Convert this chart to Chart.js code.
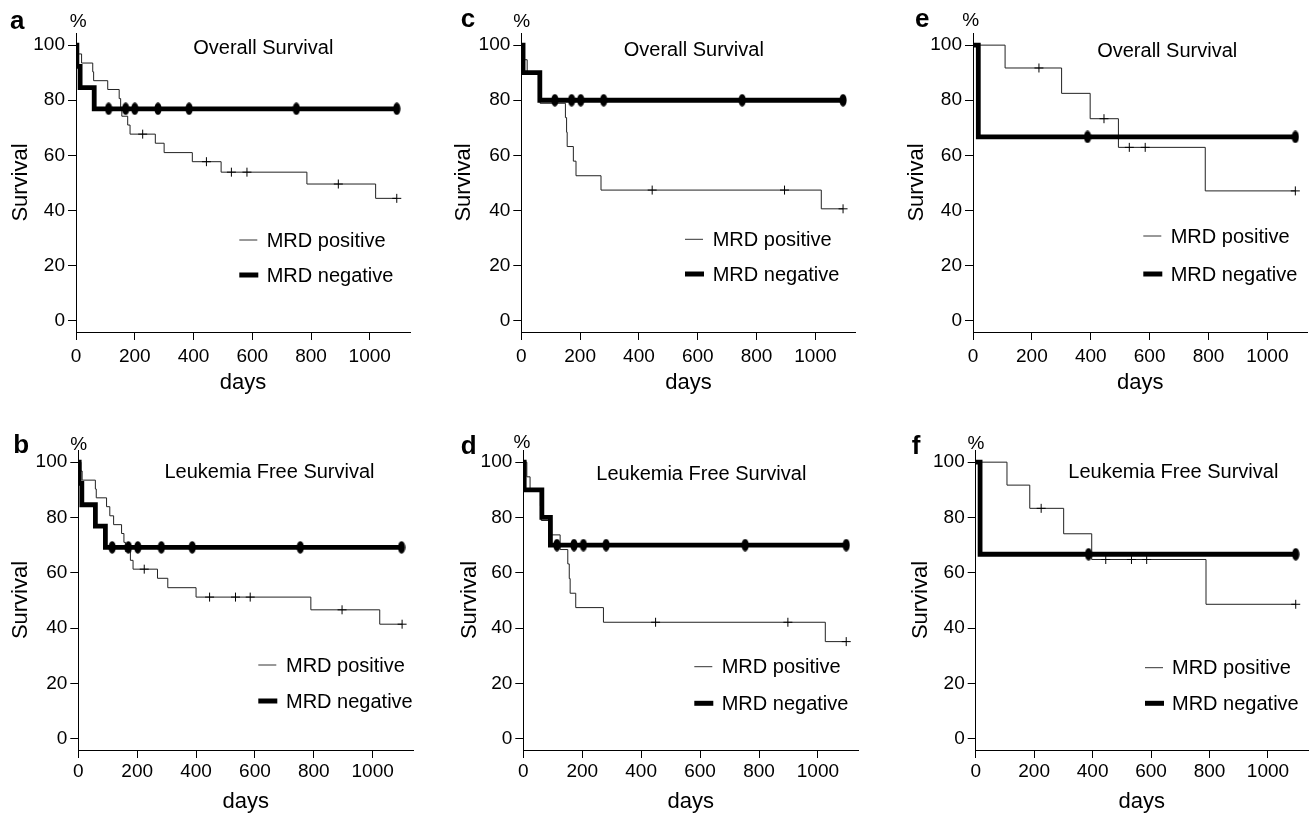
<!DOCTYPE html>
<html>
<head>
<meta charset="utf-8">
<script src="https://cdn.jsdelivr.net/npm/chart.js@4.4.1/dist/chart.umd.min.js"></script>
<style>
html, body { margin:0; padding:0; background:#fff; }
body { width:1314px; height:815px; position:relative; overflow:hidden; }
canvas { position:absolute; }
</style>
</head>
<body>
<canvas id="c-a" width="440" height="405" style="left:0px;top:0px"></canvas>
<canvas id="c-c" width="440" height="405" style="left:440px;top:0px"></canvas>
<canvas id="c-e" width="434" height="405" style="left:880px;top:0px"></canvas>
<canvas id="c-b" width="440" height="410" style="left:0px;top:405px"></canvas>
<canvas id="c-d" width="440" height="410" style="left:440px;top:405px"></canvas>
<canvas id="c-f" width="434" height="410" style="left:880px;top:405px"></canvas>
<script>
// ---------- shared labels / ticks ----------
const xTicks = [0, 200, 400, 600, 800, 1000];
const yTicks = [0, 20, 40, 60, 80, 100];
const seriesNames = ['MRD positive', 'MRD negative'];
const panelTitles = ['Overall Survival', 'Leukemia Free Survival'];
const xTitle = 'days';
const yTitle = 'Survival';
const yUnit = '%';

// ---------- panel a : Overall Survival ----------
const aPosT = [0, 6, 19, 57, 60, 108, 147, 152, 156, 176, 184, 270, 300, 396, 494, 786, 1020];
const aPosS = [100, 96.8, 93.5, 90.3, 87.1, 83.9, 80.6, 77.4, 74.2, 71.0, 67.7, 64.4, 61.0, 57.7, 53.9, 49.6, 44.4];
const aPosC = [227, 444, 529, 582, 893, 1092];
const aNegT = [0, 3, 14, 62];
const aNegS = [100, 92.3, 84.6, 76.9];
const aNegC = [111, 169, 200, 279, 385, 750, 1092];

// ---------- panel b : Leukemia Free Survival ----------
const bPosT = [0, 9, 13, 58, 61, 96, 107, 120, 147, 155, 160, 177, 186, 269, 304, 400, 790, 1024];
const bPosS = [100, 96.8, 93.5, 90.3, 87.1, 83.9, 80.6, 77.4, 74.2, 71.0, 67.7, 64.5, 61.3, 58.0, 54.6, 51.2, 46.6, 41.4];
const bPosC = [224, 446, 534, 584, 896, 1100];
const bNegT = [0, 3, 12, 58, 92];
const bNegS = [100, 92.3, 84.6, 76.9, 69.2];
const bNegC = [115, 170, 202, 282, 387, 754, 1098];

// ---------- panel c : Overall Survival ----------
const cPosT = [0, 9, 20, 62, 64, 150, 154, 156, 177, 186, 271, 1020];
const cPosS = [100, 94.7, 89.5, 84.2, 78.9, 73.7, 68.4, 63.2, 57.9, 52.6, 47.4, 40.6];
const cPosC = [445, 895, 1094];
const cNegT = [0, 6, 63];
const cNegS = [100, 90, 80];
const cNegC = [114, 171, 202, 280, 751, 1094];

// ---------- panel d : Leukemia Free Survival ----------
const dPosT = [0, 12, 23, 58, 61, 96, 125, 151, 156, 159, 178, 272, 1025];
const dPosS = [100, 94.7, 89.5, 84.2, 78.9, 73.7, 68.4, 63.2, 57.9, 52.6, 47.4, 42.1, 35.1];
const dPosC = [449, 898, 1096];
const dNegT = [0, 3, 63, 92];
const dNegS = [100, 90, 80, 70];
const dNegC = [114, 172, 204, 281, 753, 1096];

// ---------- panel e : Overall Survival ----------
const ePosT = [0, 109, 301, 398, 494, 789];
const ePosS = [100, 91.7, 82.5, 73.3, 62.9, 47.1];
const ePosC = [224, 445, 531, 585, 1095];
const eNegT = [0, 18];
const eNegS = [100, 66.7];
const eNegC = [389, 1095];

// ---------- panel f : Leukemia Free Survival ----------
const fPosT = [0, 107, 185, 301, 397, 788];
const fPosS = [100, 91.7, 83.3, 74.1, 64.8, 48.6];
const fPosC = [224, 445, 533, 585, 1095];
const fNegT = [0, 15];
const fNegS = [100, 66.7];
const fNegC = [386, 1095];

// ---------- layout (canvas-local pixels) ----------
const FONT = "'Liberation Sans', Arial, Helvetica, sans-serif";
const layouts = [
  { id:'c-a', letter:'a', title:panelTitles[0], pos:[aPosT,aPosS,aPosC], neg:[aNegT,aNegS,aNegC],
    W:440, H:405, area:[76,33,410,332], yTitlePad:7.8, xTitlePad:8.6, xTickPad:5,
    letterXY:[10,29.3], pctXY:[78.3,26.7], titleXY:[263.3,48], leg:[239.3,240,275,266.7] },
  { id:'c-c', letter:'c', title:panelTitles[0], pos:[cPosT,cPosS,cPosC], neg:[cNegT,cNegS,cNegC],
    W:440, H:405, area:[81.3,33,415.7,332], yTitlePad:10.8, xTitlePad:8.6, xTickPad:5,
    letterXY:[20.7,27.3], pctXY:[81.7,27.3], titleXY:[253.8,50], leg:[245,239.3,274,272.7] },
  { id:'c-e', letter:'e', title:panelTitles[0], pos:[ePosT,ePosS,ePosC], neg:[eNegT,eNegS,eNegC],
    W:434, H:405, area:[93,33,427.7,332], yTitlePad:23.8, xTitlePad:8.6, xTickPad:5,
    letterXY:[35,26.7], pctXY:[90.8,26], titleXY:[287.2,51.7], leg:[263.3,236,274,290.7] },
  { id:'c-b', letter:'b', title:panelTitles[1], pos:[bPosT,bPosS,bPosC], neg:[bNegT,bNegS,bNegC],
    W:440, H:410, area:[78.3,45,413,345], yTitlePad:8.1, xTitlePad:0, xTickPad:2.5,
    letterXY:[13.3,48.3], pctXY:[78.7,45], titleXY:[269.5,67.7], leg:[258.3,260,296,286] },
  { id:'c-d', letter:'d', title:panelTitles[1], pos:[dPosT,dPosS,dPosC], neg:[dNegT,dNegS,dNegC],
    W:440, H:410, area:[83.3,45,418.3,345], yTitlePad:16.3, xTitlePad:0, xTickPad:2.5,
    letterXY:[20.7,49.3], pctXY:[82,43.3], titleXY:[261.3,69], leg:[254.3,261.7,298.3,281.7] },
  { id:'c-f', letter:'f', title:panelTitles[1], pos:[fPosT,fPosS,fPosC], neg:[fNegT,fNegS,fNegC],
    W:434, H:410, area:[95.7,45,430,345], yTitlePad:27.6, xTitlePad:0, xTickPad:2.5,
    letterXY:[31.7,49.3], pctXY:[96,44.3], titleXY:[293.3,67.7], leg:[265,262.7,298.3,292] }
];

// ---------- helpers ----------
function stepAt(t, T, S) {
  let v = S[0];
  for (let i = 0; i < T.length; i++) { if (T[i] <= t) v = S[i]; }
  return v;
}
function curvePoints(T, S, C) {
  const pts = T.map((t, i) => ({ x: t, y: S[i] }));
  const end = Math.max(...C);
  if (end > T[T.length - 1]) pts.push({ x: end, y: S[S.length - 1] });
  return pts;
}
function censorPoints(T, S, C) {
  return C.map(t => ({ x: t, y: stepAt(t, T, S) }));
}

// filled vertical ellipse for censored MRD-negative patients
const negMark = document.createElement('canvas');
negMark.width = 8; negMark.height = 13;
(function () {
  const g = negMark.getContext('2d');
  g.fillStyle = '#000';
  g.beginPath();
  g.ellipse(4, 6.5, 3.6, 6.2, 0, 0, Math.PI * 2);
  g.fill();
})();

const decor = {
  id: 'decor',
  afterDraw(chart, args, o) {
    const ctx = chart.ctx;
    ctx.save();
    ctx.fillStyle = '#000';
    ctx.strokeStyle = '#000';
    ctx.textAlign = 'left';
    ctx.textBaseline = 'alphabetic';
    ctx.font = 'bold 26px ' + FONT;
    ctx.fillText(o.letter, o.letterXY[0], o.letterXY[1]);
    ctx.textAlign = 'center';
    ctx.font = '19px ' + FONT;
    ctx.fillText(yUnit, o.pctXY[0], o.pctXY[1]);
    ctx.font = '20px ' + FONT;
    ctx.textBaseline = 'middle';
    ctx.fillText(o.title, o.titleXY[0], o.titleXY[1]);
    // legend
    const [lx, ly1, ly2, tx] = o.leg;
    ctx.lineCap = 'butt';
    ctx.lineWidth = 1;
    ctx.strokeStyle = '#333';
    ctx.beginPath(); ctx.moveTo(lx, ly1); ctx.lineTo(lx + 18, ly1); ctx.stroke();
    ctx.strokeStyle = '#000';
    ctx.lineWidth = 5;
    ctx.beginPath(); ctx.moveTo(lx, ly2); ctx.lineTo(lx + 19, ly2); ctx.stroke();
    ctx.textAlign = 'left';
    ctx.font = '20px ' + FONT;
    ctx.fillText(seriesNames[0], tx, ly1 + 1);
    ctx.fillText(seriesNames[1], tx, ly2 + 1);
    ctx.restore();
  }
};

Chart.defaults.font.family = FONT;
Chart.defaults.color = '#000';

layouts.forEach(L => {
  const [pT, pS, pC] = L.pos;
  const [nT, nS, nC] = L.neg;
  const [aL, aT, aR, aB] = L.area;
  new Chart(document.getElementById(L.id), {
    type: 'scatter',
    data: {
      datasets: [
        { label: seriesNames[1], data: curvePoints(nT, nS, nC), showLine: true, stepped: true,
          borderColor: '#000', borderWidth: 4.8, pointRadius: 0, order: 0 },
        { label: seriesNames[1] + ' censored', data: censorPoints(nT, nS, nC), showLine: false,
          pointStyle: negMark, pointRadius: 5, order: 0 },
        { label: seriesNames[0] + ' censored', data: censorPoints(pT, pS, pC), showLine: false,
          pointStyle: 'cross', pointRadius: 4.5, borderColor: '#000', borderWidth: 1, order: 1 },
        { label: seriesNames[0], data: curvePoints(pT, pS, pC), showLine: true, stepped: true,
          borderColor: '#222', borderWidth: 1, pointRadius: 0, order: 2 }
      ]
    },
    options: {
      responsive: false,
      animation: false,
      devicePixelRatio: 1,
      layout: { padding: { left: 0, top: aT, right: L.W - aR, bottom: 0 } },
      plugins: {
        legend: { display: false },
        tooltip: { enabled: false },
        decor: L
      },
      scales: {
        x: {
          type: 'linear', min: 0, max: 1137,
          afterFit: s => { s.height = L.H - aB; },
          afterBuildTicks: s => { s.ticks = xTicks.map(v => ({ value: v })); },
          grid: { drawOnChartArea: false, drawTicks: true, tickLength: 8, color: '#000', lineWidth: 1 },
          border: { display: true, color: '#000', width: 1 },
          ticks: { font: { size: 19 }, color: '#000', padding: L.xTickPad, maxRotation: 0, autoSkip: false,
                   callback: v => String(v) },
          title: { display: true, text: xTitle, font: { size: 22 }, color: '#000', padding: { top: 0, bottom: L.xTitlePad } }
        },
        y: {
          type: 'linear', min: -4.1, max: 104.4,
          afterFit: s => { s.width = aL; },
          afterBuildTicks: s => { s.ticks = yTicks.map(v => ({ value: v })); },
          grid: { drawOnChartArea: false, drawTicks: true, tickLength: 8, color: '#000', lineWidth: 1 },
          border: { display: true, color: '#000', width: 1 },
          ticks: { font: { size: 19 }, color: '#000', padding: 3, autoSkip: false,
                   callback: v => String(v) },
          title: { display: true, text: yTitle, font: { size: 22 }, color: '#000', padding: { top: L.yTitlePad, bottom: 0 } }
        }
      }
    },
    plugins: [decor]
  });
});
</script>
</body>
</html>
